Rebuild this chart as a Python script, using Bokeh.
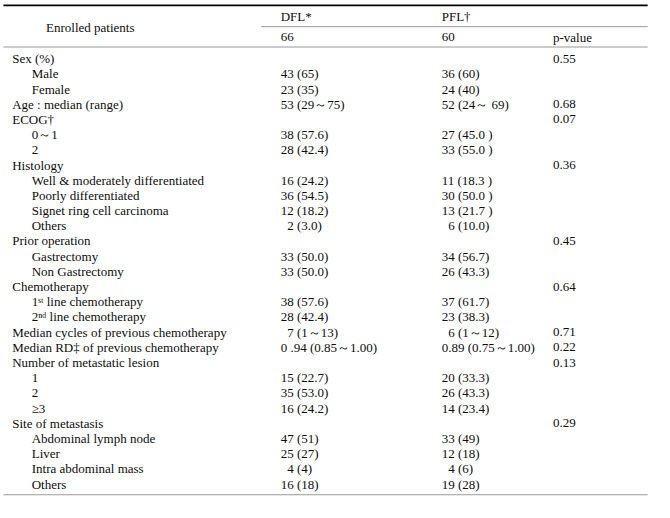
from bokeh.plotting import figure
from bokeh.models import Range1d, ColumnDataSource
from bokeh.core.properties import value
from bokeh.embed import file_html
from bokeh.resources import INLINE

# ---- table data ----
row_labels = [
    "Sex (%)", "Male", "Female", "Age : median (range)", "ECOG\u2020", "0\uff5e1", "2",
    "Histology", "Well & moderately differentiated", "Poorly differentiated",
    "Signet ring cell carcinoma", "Others", "Prior operation", "Gastrectomy",
    "Non Gastrectomy", "Chemotherapy", "1\u02e2\u1d57 line chemotherapy",
    "2\u207f\u1d48 line chemotherapy", "Median cycles of previous chemotherapy",
    "Median RD\u2021 of previous chemotherapy", "Number of metastatic lesion",
    "1", "2", "\u22653", "Site of metastasis", "Abdominal lymph node", "Liver",
    "Intra abdominal mass", "Others",
]
is_sub = [False, True, True, False, False, True, True,
          False, True, True, True, True, False, True,
          True, False, True, True, False, False, False,
          True, True, True, False, True, True, True, True]
dfl_values = [
    "", "43 (65)", "23 (35)", "53 (29\uff5e75)", "", "38 (57.6)", "28 (42.4)",
    "", "16 (24.2)", "36 (54.5)", "12 (18.2)", "\u20072 (3.0)", "", "33 (50.0)",
    "33 (50.0)", "", "38 (57.6)", "28 (42.4)", "\u20077 (1\uff5e13)",
    "0 .94 (0.85\uff5e1.00)", "", "15 (22.7)", "35 (53.0)", "16 (24.2)", "",
    "47 (51)", "25 (27)", "\u20074 (4)", "16 (18)",
]
pfl_values = [
    "", "36 (60)", "24 (40)", "52 (24\uff5e 69)", "", "27 (45.0 )", "33 (55.0 )",
    "", "11 (18.3 )", "30 (50.0 )", "13 (21.7 )", "\u20076 (10.0)", "", "34 (56.7)",
    "26 (43.3)", "", "37 (61.7)", "23 (38.3)", "\u20076 (1\uff5e12)",
    "0.89 (0.75\uff5e1.00)", "", "20 (33.3)", "26 (43.3)", "14 (23.4)", "",
    "33 (49)", "12 (18)", "\u20074 (6)", "19 (28)",
]
p_values = [
    "0.55", "", "", "0.68", "0.07", "", "",
    "0.36", "", "", "", "", "0.45", "",
    "", "0.64", "", "", "0.71",
    "0.22", "0.13", "", "", "", "0.29",
    "", "", "", "",
]
header_first = "Enrolled patients"
group_names = ["DFL*", "PFL\u2020"]
group_n = ["66", "60"]
p_header = "p-value"

# ---- layout (reference pixel space 670 x 518, drawn into 654 x 502) ----
FONT = value("Liberation Serif")
FS = "13px"
X_CAT, X_SUB, X_DFL, X_PFL, X_P = 12, 32, 287, 452, 566
X_LEFT, X_RIGHT = 3, 663
Y_FIRST_ROW, ROW_H = 60.0, 15.68

p = figure(width=654, height=502, output_backend="svg", toolbar_location=None,
           x_range=Range1d(0, 670), y_range=Range1d(518, 0),
           min_border=0, outline_line_color=None)
p.axis.visible = False
p.grid.visible = False
p.background_fill_color = "white"
p.border_fill_color = "white"

n = len(row_labels)
ys = [Y_FIRST_ROW + ROW_H * i for i in range(n)]
src = ColumnDataSource(dict(
    y=ys,
    xl=[X_SUB if s else X_CAT for s in is_sub],
    lab=row_labels,
    dfl=dfl_values,
    pfl=pfl_values,
    pv=p_values,
    xd=[X_DFL] * n, xp=[X_PFL] * n, xv=[X_P] * n,
))
common = dict(text_font=FONT, text_font_size=FS, text_color="#0d0d0d",
              text_baseline="middle", text_align="left")
p.text(x="xl", y="y", text="lab", source=src, **common)
p.text(x="xd", y="y", text="dfl", source=src, **common)
p.text(x="xp", y="y", text="pfl", source=src, **common)
p.text(x="xv", y="y", text="pv", source=src, **common)

# header
Y_GROUP, Y_N, Y_HEAD = 17, 38, 28
p.text(x=[92], y=[Y_HEAD], text=[header_first], text_font=FONT, text_font_size=FS,
       text_color="#0d0d0d", text_baseline="middle", text_align="center")
p.text(x=[X_DFL, X_PFL], y=[Y_GROUP, Y_GROUP], text=group_names, **common)
p.text(x=[X_DFL, X_PFL, X_P], y=[Y_N, Y_N, Y_N], text=group_n + [p_header], **common)

# rules
p.segment(x0=[X_LEFT], y0=[5], x1=[X_RIGHT], y1=[5], line_color="black", line_width=1.8)
p.segment(x0=[267], y0=[27], x1=[X_RIGHT], y1=[27], line_color="#9a9a9a", line_width=1)
p.segment(x0=[X_LEFT, X_LEFT], y0=[48, 510], x1=[X_RIGHT, X_RIGHT], y1=[48, 510],
          line_color="#9a9a9a", line_width=1.2)

open("out.html", "w").write(file_html(p, INLINE))
